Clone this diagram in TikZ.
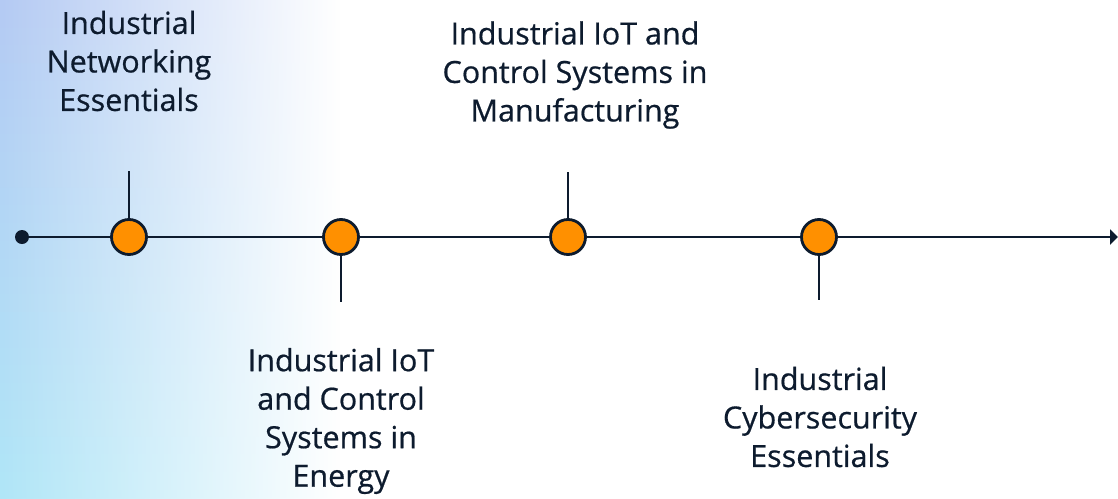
\documentclass[tikz,border=0pt]{standalone}
\usepackage{fontspec}
\setmainfont{Open Sans}
\newfontfamily\labelfont{Open Sans}[FakeBold=0.6]
\usetikzlibrary{arrows.meta,shadings,fadings}
\definecolor{ink}{HTML}{0D1B2E}
\definecolor{dotorange}{HTML}{FF9000}
\definecolor{bgtop}{HTML}{B4CAF3}
\definecolor{bgmid}{HTML}{A0D4F2}
\definecolor{bgbot}{HTML}{B0E6F7}
\tikzset{
  milestone/.style={circle,draw=ink,line width=2.8pt,fill=dotorange,minimum size=35pt,inner sep=0pt},
  axisline/.style={draw=ink,line width=2.8pt},
  label/.style={align=center,text=ink,inner sep=0pt,font=\labelfont\fontsize{30.5}{38.5}\selectfont}
}
\begin{document}
\begin{tikzpicture}[x=1pt,y=-1pt]
\useasboundingbox (0,0) rectangle (1118,498);
\fill[white] (0,0) rectangle (1118,498);
\shade[top color=bgtop,middle color=bgmid,bottom color=bgbot,path fading=east] (0,0) rectangle (340,498);
% start dot and arrow end
\node[circle,fill=ink,minimum size=14pt,inner sep=0pt] (start) at (22,237) {};
\coordinate (end) at (1118,237);
\node[milestone] (m1) at (129,237) {};
\node[milestone] (m2) at (341,237) {};
\node[milestone] (m3) at (568,237) {};
\node[milestone] (m4) at (819,237) {};
\draw[axisline] (start) -- (m1);
\draw[axisline] (m1) -- (m2);
\draw[axisline] (m2) -- (m3);
\draw[axisline] (m3) -- (m4);
\draw[axisline,-{Triangle[length=8pt,width=15pt]}] (m4) -- (end);
% ticks
\coordinate (t1) at (129,171);
\coordinate (t2) at (341,302);
\coordinate (t3) at (568,172);
\coordinate (t4) at (819,300);
\draw[axisline] (m1) -- (t1);
\draw[axisline] (m2) -- (t2);
\draw[axisline] (m3) -- (t3);
\draw[axisline] (m4) -- (t4);
% labels
\node[label] (l1) at (129,61) {Industrial\\Networking\\Essentials};
\node[label] (l2) at (341,421) {Industrial IoT\\and Control\\Systems in\\Energy};
\node[label] (l3) at (575,75) {Industrial IoT and\\Control Systems in\\Manufacturing};
\node[label] (l4) at (820,417) {Industrial\\Cybersecurity\\Essentials};
\end{tikzpicture}
\end{document}
